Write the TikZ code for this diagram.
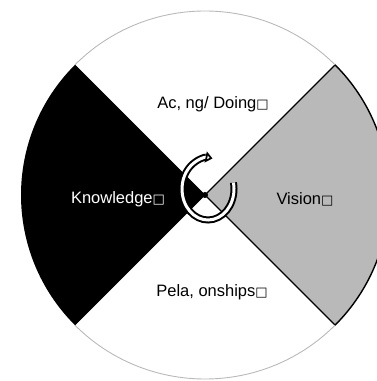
\documentclass[tikz,border=0pt]{standalone}
\usepackage{fontspec}
\setsansfont{Liberation Sans}
\newfontfamily\boxfont{DejaVu Sans}
\usetikzlibrary{arrows.meta,calc}
\tikzset{
  lbl/.style={font=\sffamily\fontsize{16.5}{19}\selectfont, inner sep=0pt},
  rim/.style={draw=gray!55, line width=0.9pt},
}
\newcommand{\bx}{{\boxfont\fontsize{13}{15}\selectfont □}}

\begin{document}
\begin{tikzpicture}[x=1pt,y=1pt]
            \useasboundingbox(0,0)rectangle(377,381);
            \clip(0,0)rectangle(377,381);
            \coordinate(O)at(205,186);
            \coordinate(A)at($(O)+(45:184)$);
            \coordinate(B)at($(O)+(135:184)$);
            \coordinate(C)at($(O)+(225:184)$);
            \coordinate(D)at($(O)+(-45:184)$);
            %Knowledge
            \path[fill=black](O)--(B)arc[start angle=135,end angle=225,radius=184]--cycle;
            %Vision
            \path[fill=gray!55,draw=black,line width=1.4pt](O)--(D)arc[start angle=-45,end angle=45,radius=184]--cycle;
            %rim
            \path[rim](A)arc[start angle=45,end angle=135,radius=184];
            \path[rim](C)arc[start angle=225,end angle=315,radius=184];
            \path[draw=black,line width=0.6pt](O)--(B);
            \path[draw=black,line width=0.6pt](O)--(C);
            %cycle arrow
            \coordinate(R)at(208,192);
            \path[draw=black,line width=2pt,double=white,double distance=3pt,-{Triangle[open,length=7pt,width=11pt]}]
                ($(R)+(12:26 and 31)$)arc[start angle=12,end angle=-280,x radius=26,y radius=31];
            \path[fill=black](O)circle(3);
            %labels
            \node[lbl](act)at(213,277){Ac, ng/ Doing\bx};
            \node[lbl,text=white](know)at(118,182){Knowledge\bx};
            \node[lbl](vis)at(305,182){Vision\bx};
            \node[lbl](rel)at(212,89){Pela, onships\bx};
        \end{tikzpicture}
\end{document}
